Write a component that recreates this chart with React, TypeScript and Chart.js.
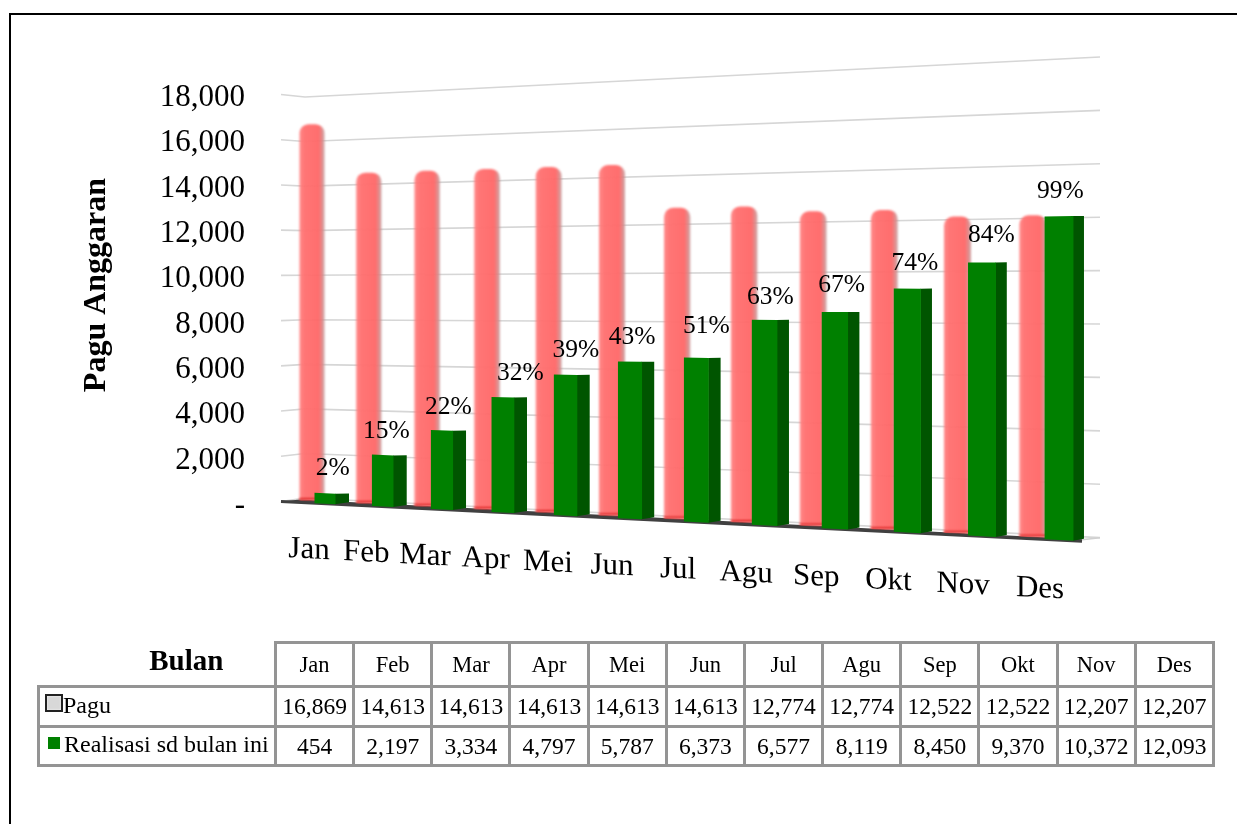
import React, { useEffect, useRef } from "react";
import { Chart, registerables } from "chart.js";

Chart.register(...registerables);

const categories = ["Jan", "Feb", "Mar", "Apr", "Mei", "Jun", "Jul", "Agu", "Sep", "Okt", "Nov", "Des"];
const pagu = [16869, 14613, 14613, 14613, 14613, 14613, 12774, 12774, 12522, 12522, 12207, 12207];
const realisasi = [454, 2197, 3334, 4797, 5787, 6373, 6577, 8119, 8450, 9370, 10372, 12093];
const percentLabels = ["2%", "15%", "22%", "32%", "39%", "43%", "51%", "63%", "67%", "74%", "84%", "99%"];
const percentNudgeX = [1, -3, 0, 11, 4, -4, 4, 0, 1, 2, 4, -4];
const percentNudgeY = [0, 1, 2, 1, 1, 1, -6, 2, -2, 0, -2, 0];

const FONT = '"Liberation Serif"';
const MAX = 18000;

// Perspective planes of the 3-D look (vertical lines stay vertical)
const depth = (t: number, x0: number, d: number, k: number) => x0 + (d * t) / (1 - k * t);
const pinkX = (t: number) => depth(t, 312, 56.05, 0.01317);
const greenX = (t: number) => depth(t, 325, 56.93, 0.01335);
const labelX = (t: number) => depth(t, 309, 56.46, 0.01368);
const pinkBase = (x: number) => 500 + 0.0509 * (x - 312);
const pinkH = (x: number) => 401 + 0.1012 * (x - 312);
const greenBase = (x: number) => 501.5 + 0.0495 * (x - 281);
const greenH = (x: number) => 422 + 0.0886 * (x - 383);
const wallBase = (x: number) => 498 + 0.0499 * (x - 305);
const wallH = (x: number) => 401 + 0.1003 * (x - 305);

const warpPlugin = {
  id: "warp",
  beforeDatasetsDraw(chart: any) {
    const { ctx, chartArea: area } = chart;
    const xs = chart.scales.x;
    const ys = chart.scales.y;
    const frac = (px: number) => (area.bottom - px) / (area.bottom - area.top);

    // grid
    ctx.save();
    ctx.strokeStyle = "#d6d6d6";
    ctx.lineWidth = 1.6;
    ys.ticks.forEach((tick: any) => {
      const w = frac(ys.getPixelForValue(tick.value));
      ctx.beginPath();
      ctx.moveTo(281, 501.5 - w * 407);
      ctx.lineTo(305, wallBase(305) - w * wallH(305));
      ctx.lineTo(1100, wallBase(1100) - w * wallH(1100));
      ctx.stroke();
    });
    ctx.restore();

    // floor
    ctx.save();
    ctx.fillStyle = "#404040";
    ctx.beginPath();
    ctx.moveTo(281, greenBase(281));
    ctx.lineTo(300, pinkBase(300));
    ctx.lineTo(1082, pinkBase(1082));
    ctx.lineTo(1082, greenBase(1082));
    ctx.closePath();
    ctx.fill();
    ctx.restore();

    // pink bars
    const pinkMeta = chart.getDatasetMeta(0);
    pinkMeta.data.forEach((el: any) => {
      const t = xs.getValueForPixel(el.x);
      const w = frac(el.y);
      const cx = pinkX(t);
      const half = (el.width / 2) * (1 + 0.008 * t);
      const bottom = pinkBase(cx);
      const top = bottom - w * pinkH(cx);
      ctx.save();
      ctx.filter = "blur(0.8px)";
      const g = ctx.createLinearGradient(cx - half, 0, cx + half, 0);
      g.addColorStop(0, "rgba(255,130,130,0.94)");
      g.addColorStop(0.2, "rgba(255,112,112,0.96)");
      g.addColorStop(0.78, "rgba(255,104,104,0.96)");
      g.addColorStop(1, "rgba(195,150,150,0.85)");
      ctx.fillStyle = g;
      ctx.beginPath();
      ctx.roundRect(cx - half, top, half * 2, bottom - top, [9, 9, 0, 0]);
      ctx.fill();
      ctx.fillStyle = "#e02828";
      ctx.fillRect(cx - half, bottom - 2, half * 2, 2);
      ctx.restore();
    });

    // floor edge
    ctx.save();
    ctx.strokeStyle = "#404040";
    ctx.lineWidth = 3;
    ctx.beginPath();
    ctx.moveTo(281, greenBase(281));
    ctx.lineTo(1082, greenBase(1082));
    ctx.stroke();
    ctx.strokeStyle = "#d0d0d0";
    ctx.lineWidth = 1.5;
    ctx.beginPath();
    ctx.moveTo(1082, greenBase(1082) - 1.5);
    ctx.lineTo(1100, wallBase(1100));
    ctx.stroke();
    ctx.restore();

    // green bars
    const greenMeta = chart.getDatasetMeta(1);
    ctx.save();
    ctx.font = `25.5px ${FONT}`;
    ctx.textAlign = "center";
    ctx.textBaseline = "middle";
    greenMeta.data.forEach((el: any, i: number) => {
      const t = xs.getValueForPixel(el.x);
      const w = frac(el.y);
      const cx = greenX(t);
      const half = (el.width / 2) / Math.pow(1 - 0.01335 * t, 2);
      const l = cx - half;
      const r = cx + half;
      const sideW = 13.5 - 0.27 * t;
      const topAt = (x: number) => greenBase(x) - w * greenH(x);
      ctx.fillStyle = "#005500";
      ctx.beginPath();
      ctx.moveTo(r - 0.5, topAt(r));
      ctx.lineTo(r + sideW, topAt(r) - 0.2);
      ctx.lineTo(r + sideW, greenBase(r) - 2);
      ctx.lineTo(r - 0.5, greenBase(r));
      ctx.closePath();
      ctx.fill();
      ctx.fillStyle = "#008000";
      ctx.beginPath();
      ctx.moveTo(l, topAt(l));
      ctx.lineTo(r, topAt(r));
      ctx.lineTo(r, greenBase(r));
      ctx.lineTo(l, greenBase(l));
      ctx.closePath();
      ctx.fill();
      ctx.fillStyle = "#000";
      ctx.fillText(percentLabels[i], cx + sideW / 2 + percentNudgeX[i], topAt(cx) - 25 + percentNudgeY[i]);
    });
    ctx.restore();

    // category labels, following the slope of the floor
    ctx.save();
    ctx.font = `31px ${FONT}`;
    ctx.fillStyle = "#000";
    ctx.textAlign = "center";
    ctx.textBaseline = "middle";
    chart.data.labels.forEach((label: string, i: number) => {
      const lx = labelX(xs.getValueForPixel(xs.getPixelForValue(i)));
      ctx.save();
      ctx.translate(lx, 550 + 0.0534 * (lx - 309));
      ctx.transform(1, 0.05, 0, 1, 0, 0);
      ctx.fillText(label, 0, 0);
      ctx.restore();
    });
    ctx.restore();

    // axis title
    ctx.save();
    ctx.font = `bold 32px ${FONT}`;
    ctx.fillStyle = "#000";
    ctx.textAlign = "center";
    ctx.textBaseline = "middle";
    ctx.translate(97, 285);
    ctx.rotate(-Math.PI / 2);
    ctx.fillText("Pagu Anggaran", 0, 0);
    ctx.restore();

    return false;
  },
};

const cellBorder = "3px solid #949494";
const cell: React.CSSProperties = {
  border: cellBorder,
  textAlign: "center",
  padding: 0,
  overflow: "hidden",
  whiteSpace: "nowrap",
  fontSize: 23.5,
  color: "#000",
};

export default function App() {
  const ref = useRef<HTMLCanvasElement>(null);

  useEffect(() => {
    const chart = new Chart(ref.current as HTMLCanvasElement, {
      type: "bar",
      data: {
        labels: categories,
        datasets: [
          { label: "Pagu", data: pagu, backgroundColor: "#ff7070", barThickness: 25, grouped: false },
          { label: "Realisasi sd bulan ini", data: realisasi, backgroundColor: "#008000", barThickness: 21, grouped: false },
        ],
      } as any,
      options: {
        responsive: false,
        animation: false,
        layout: { padding: { left: 100, top: 98, bottom: 318, right: 137 } },
        plugins: { legend: { display: false }, tooltip: { enabled: false } },
        scales: {
          x: { display: false },
          y: {
            min: 0,
            max: MAX,
            afterFit: (s: any) => {
              s.width = 145;
            },
            border: { display: false },
            grid: { display: false, drawTicks: false },
            ticks: {
              stepSize: 2000,
              padding: 0,
              color: "#000",
              font: { family: FONT, size: 31 },
              callback: (v: any) => (v === 0 ? "-" : Number(v).toLocaleString("en-US")),
            },
          },
        },
      } as any,
      plugins: [warpPlugin] as any,
    });
    return () => chart.destroy();
  }, []);

  return (
    <div style={{ position: "absolute", left: 0, top: 0, width: 1237, height: 824, overflow: "hidden", background: "#fff", fontFamily: FONT }}>
      <canvas ref={ref} width={1237} height={824} style={{ position: "absolute", left: 0, top: 0, display: "block" }} />
      <div style={{ position: "absolute", left: 9, top: 13, width: 1300, height: 900, borderLeft: "2px solid #000", borderTop: "2px solid #000" }} />
      <table
        style={{
          position: "absolute",
          left: 37,
          top: 641,
          width: 1177,
          height: 124,
          borderCollapse: "collapse",
          tableLayout: "fixed",
          fontFamily: FONT,
        }}
      >
        <colgroup>
          <col style={{ width: 237 }} />
          {categories.map((c) => (
            <col key={c} style={{ width: 78.17 }} />
          ))}
        </colgroup>
        <tbody>
          <tr style={{ height: 44 }}>
            <td style={{ ...cell, borderTop: "none", borderLeft: "none", fontWeight: "bold", fontSize: 29, paddingLeft: 60, paddingBottom: 6 }}>Bulan</td>
            {categories.map((c) => (
              <td key={c} style={{ ...cell, fontSize: 22.5 }}>{c}</td>
            ))}
          </tr>
          <tr style={{ height: 40 }}>
            <td style={{ ...cell, textAlign: "left", paddingBottom: 3 }}>
              <span style={{ display: "inline-block", width: 14, height: 14, marginLeft: 5, border: "2.5px solid #222", background: "#d8d8d8", boxShadow: "inset 0 0 2px #fff", verticalAlign: 1 }} />
              <span style={{ fontSize: 24 }}>Pagu</span>
            </td>
            {pagu.map((v, i) => (
              <td key={i} style={cell}>{v.toLocaleString("en-US")}</td>
            ))}
          </tr>
          <tr style={{ height: 39 }}>
            <td style={{ ...cell, textAlign: "left", paddingBottom: 3 }}>
              <span style={{ display: "inline-block", width: 12, height: 12, marginLeft: 8, marginRight: 4, background: "#008000", verticalAlign: 3 }} />
              <span style={{ fontSize: 24 }}>Realisasi sd bulan ini</span>
            </td>
            {realisasi.map((v, i) => (
              <td key={i} style={cell}>{v.toLocaleString("en-US")}</td>
            ))}
          </tr>
        </tbody>
      </table>
    </div>
  );
}
